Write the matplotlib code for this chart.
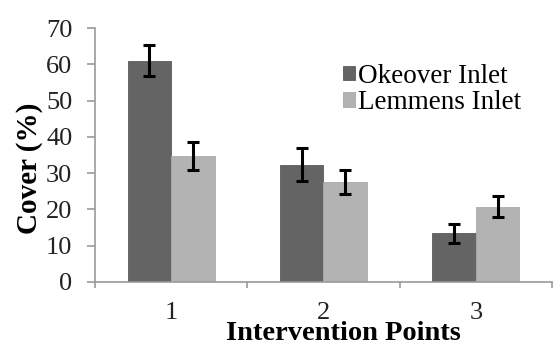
import matplotlib
matplotlib.use("Agg")
import matplotlib.pyplot as plt
import numpy as np

categories = ["1", "2", "3"]
okeover = [61.0, 32.3, 13.4]
okeover_err = [4.3, 4.5, 2.7]
lemmens = [34.8, 27.6, 20.7]
lemmens_err = [3.9, 3.4, 2.9]
yticks = [0, 10, 20, 30, 40, 50, 60, 70]

plt.rcParams['font.family'] = ['Liberation Serif', 'DejaVu Serif']

fig = plt.figure(figsize=(5.54, 3.47), dpi=100)
ax = fig.add_axes([95/554, 1-282/347, (552-95)/554, (282-28)/347])

x = np.arange(1, len(categories)+1)
w = 0.286
ekw = dict(ecolor='black', elinewidth=2.2, capsize=4.5, capthick=2.2)
ax.bar(x - w/2, okeover, w, color='#646464', edgecolor='#5a5a5a', linewidth=0.6,
       yerr=okeover_err, error_kw=ekw, label='Okeover Inlet')
ax.bar(x + w/2, lemmens, w, color='#b3b3b3', edgecolor='#aaaaaa', linewidth=0.6,
       yerr=lemmens_err, error_kw=ekw, label='Lemmens Inlet')

ax.set_xlim(0.5, 3.5)
ax.set_ylim(0, 70)
ax.set_yticks(yticks)
ax.set_yticklabels([str(v) for v in yticks], fontsize=19, color='#222222')
ax.set_xticks(x)
ax.set_xticklabels(categories, fontsize=19, color='#222222')
ax.set_xticks([0.5, 1.5, 2.5, 3.5], minor=True)
ax.tick_params(axis='x', which='major', length=0, pad=14.5)
ax.tick_params(axis='x', which='minor', length=4.3, color='#999999', width=1.2)
ax.tick_params(axis='y', length=5.8, color='#999999', width=1.2, pad=10.5)

for s in ['top', 'right']:
    ax.spines[s].set_visible(False)
for s in ['left', 'bottom']:
    ax.spines[s].set_color('#999999')
    ax.spines[s].set_linewidth(1.2)

ax.set_ylabel('Cover (%)', fontsize=21, fontweight='bold')
ax.yaxis.set_label_coords(-0.114, 0.449)
ax.set_xlabel('Intervention Points', fontsize=20.5, fontweight='bold', va='bottom')
ax.xaxis.set_label_coords(0.543, -0.25)

ax.legend(loc='upper left', bbox_to_anchor=(0.543, 0.86), frameon=False,
          fontsize=19.5, handlelength=0.45, handleheight=0.45, handletextpad=0.1,
          labelspacing=0.05, borderaxespad=0, borderpad=0)

fig.savefig('out.png', dpi=100)
